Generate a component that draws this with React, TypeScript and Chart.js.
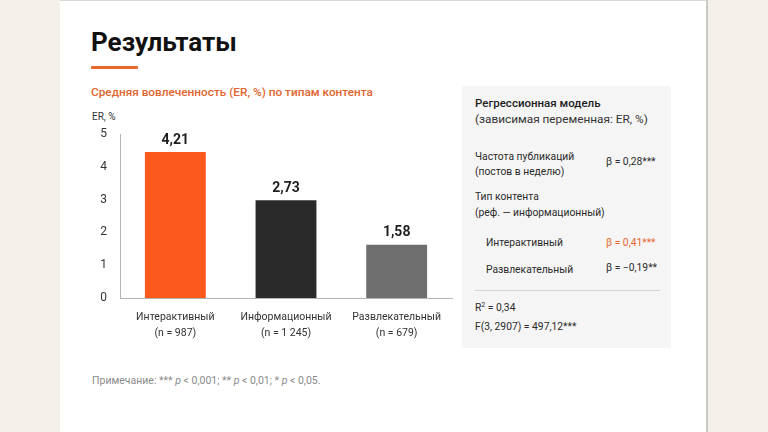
import React, { useEffect, useRef } from "react";
import { Chart, registerables } from "chart.js";

Chart.register(...registerables);

const categories: string[][] = [
  ["Интерактивный", "(n = 987)"],
  ["Информационный", "(n = 1 245)"],
  ["Развлекательный", "(n = 679)"],
];
// Bar heights as drawn in the picture
const erValues: number[] = [4.45, 2.98, 1.62];
// Printed value labels above the bars
const valueLabels: string[] = ["4,21", "2,73", "1,58"];
const barColors: string[] = ["#fc5a1c", "#2a2a2a", "#6e6e6e"];
const yTickLabels: string[] = ["0", "1", "2", "3", "4", "5"];

const FONT = "Roboto, 'Noto Sans', Arial, sans-serif";

const valueLabelPlugin = {
  id: "valueLabels",
  afterDatasetsDraw(chart: any) {
    const ctx = chart.ctx;
    const meta = chart.getDatasetMeta(0);
    ctx.save();
    ctx.font = `bold 14px ${FONT}`;
    ctx.fillStyle = "#1e1e1e";
    ctx.textAlign = "center";
    ctx.textBaseline = "middle";
    meta.data.forEach((bar: any, i: number) => {
      ctx.fillText(valueLabels[i], bar.x, bar.y - 12);
    });
    ctx.restore();
  },
};

function BarChart() {
  const ref = useRef<HTMLCanvasElement | null>(null);
  useEffect(() => {
    if (!ref.current) return;
    const chart = new Chart(ref.current, {
      type: "bar",
      data: {
        labels: categories,
        datasets: [
          {
            data: erValues,
            backgroundColor: barColors,
            borderWidth: 0,
            categoryPercentage: 1,
            barPercentage: 0.55,
          },
        ],
      },
      options: {
        animation: false,
        responsive: false,
        maintainAspectRatio: false,
        layout: { padding: { top: 34, right: 13, left: 0, bottom: 0 } },
        plugins: {
          legend: { display: false },
          tooltip: { enabled: false },
          title: { display: false },
        },
        scales: {
          x: {
            grid: { display: false },
            border: { display: true, color: "#b5b5b5", width: 1 },
            ticks: {
              color: "#333",
              font: { family: FONT, size: 10.5, lineHeight: 1.55 },
              padding: 3,
              maxRotation: 0,
              autoSkip: false,
            },
            afterFit: (scale: any) => {
              scale.height = 47;
            },
          },
          y: {
            min: 0,
            max: 5,
            grid: { display: false },
            border: { display: true, color: "#b5b5b5", width: 1 },
            ticks: {
              stepSize: 1,
              color: "#333",
              font: { family: FONT, size: 12 },
              padding: 5,
              autoSkip: false,
              callback: (_v: any, i: number) => yTickLabels[i],
            },
            afterFit: (scale: any) => {
              scale.width = 40;
            },
          },
        },
      },
      plugins: [valueLabelPlugin],
    });
    return () => chart.destroy();
  }, []);
  return (
    <canvas
      ref={ref}
      width={385}
      height={245}
      style={{ position: "absolute", left: 80, top: 100, width: 385, height: 245 }}
    />
  );
}

const abs = (left: number, top: number, extra: React.CSSProperties = {}): React.CSSProperties => ({
  position: "absolute",
  left,
  top,
  whiteSpace: "nowrap",
  lineHeight: 1,
  ...extra,
});

export default function App() {
  const txt: React.CSSProperties = { fontSize: 10.3, color: "#2a2a2a" };
  return (
    <div
      style={{
        position: "fixed",
        left: 0,
        top: 0,
        width: 768,
        height: 432,
        background: "#f2f0e9",
        fontFamily: FONT,
        overflow: "hidden",
      }}
    >
      {/* slide */}
      <div style={{ position: "absolute", left: 60, top: 0, width: 646, height: 432, background: "#ffffff", borderTop: "1px solid #d8d8d8" }} />
      <div style={{ position: "absolute", left: 706, top: 0, width: 2, height: 432, background: "#c9c9c6" }} />

      <div style={abs(91, 29, { fontSize: 26, fontWeight: 700, color: "#111" })}>Результаты</div>
      <div style={{ position: "absolute", left: 91, top: 66, width: 47, height: 3, background: "#e8682e", borderRadius: 1 }} />
      <div style={abs(91, 87, { fontSize: 11.8, fontWeight: 500, color: "#e2642e" })}>
        Средняя вовлеченность (ER, %) по типам контента
      </div>
      <div style={abs(92, 112, { fontSize: 10, color: "#333" })}>ER, %</div>

      <BarChart />

      <div style={abs(92, 376, { fontSize: 10.5, color: "#8a8a8a" })}>
        Примечание: *** <i>p</i> &lt; 0,001; ** <i>p</i> &lt; 0,01; * <i>p</i> &lt; 0,05.
      </div>

      {/* regression panel */}
      <div style={{ position: "absolute", left: 462, top: 86, width: 209, height: 262, background: "#f5f5f5", borderRadius: 2 }} />
      <div style={abs(475, 98, { fontSize: 11.5, fontWeight: 500, color: "#1e1e1e" })}>Регрессионная модель</div>
      <div style={abs(475, 114, { fontSize: 11.8, color: "#333" })}>(зависимая переменная: ER, %)</div>

      <div style={abs(475, 152, txt)}>Частота публикаций</div>
      <div style={abs(475, 167, txt)}>(постов в неделю)</div>
      <div style={abs(606, 157, txt)}>β = 0,28***</div>

      <div style={abs(475, 192, txt)}>Тип контента</div>
      <div style={abs(475, 208, txt)}>(реф. — информационный)</div>

      <div style={abs(486, 238, txt)}>Интерактивный</div>
      <div style={abs(606, 238, { ...txt, color: "#e8662e" })}>β = 0,41***</div>
      <div style={abs(486, 265, txt)}>Развлекательный</div>
      <div style={abs(606, 263, txt)}>β = −0,19**</div>

      <div style={{ position: "absolute", left: 475, top: 290, width: 185, height: 1, background: "#d4d4d4" }} />

      <div style={abs(475, 303, txt)}>
        R<sup style={{ fontSize: 7, verticalAlign: "4px", lineHeight: 0 }}>2</sup> = 0,34
      </div>
      <div style={abs(475, 322, txt)}>F(3, 2907) = 497,12***</div>
    </div>
  );
}
